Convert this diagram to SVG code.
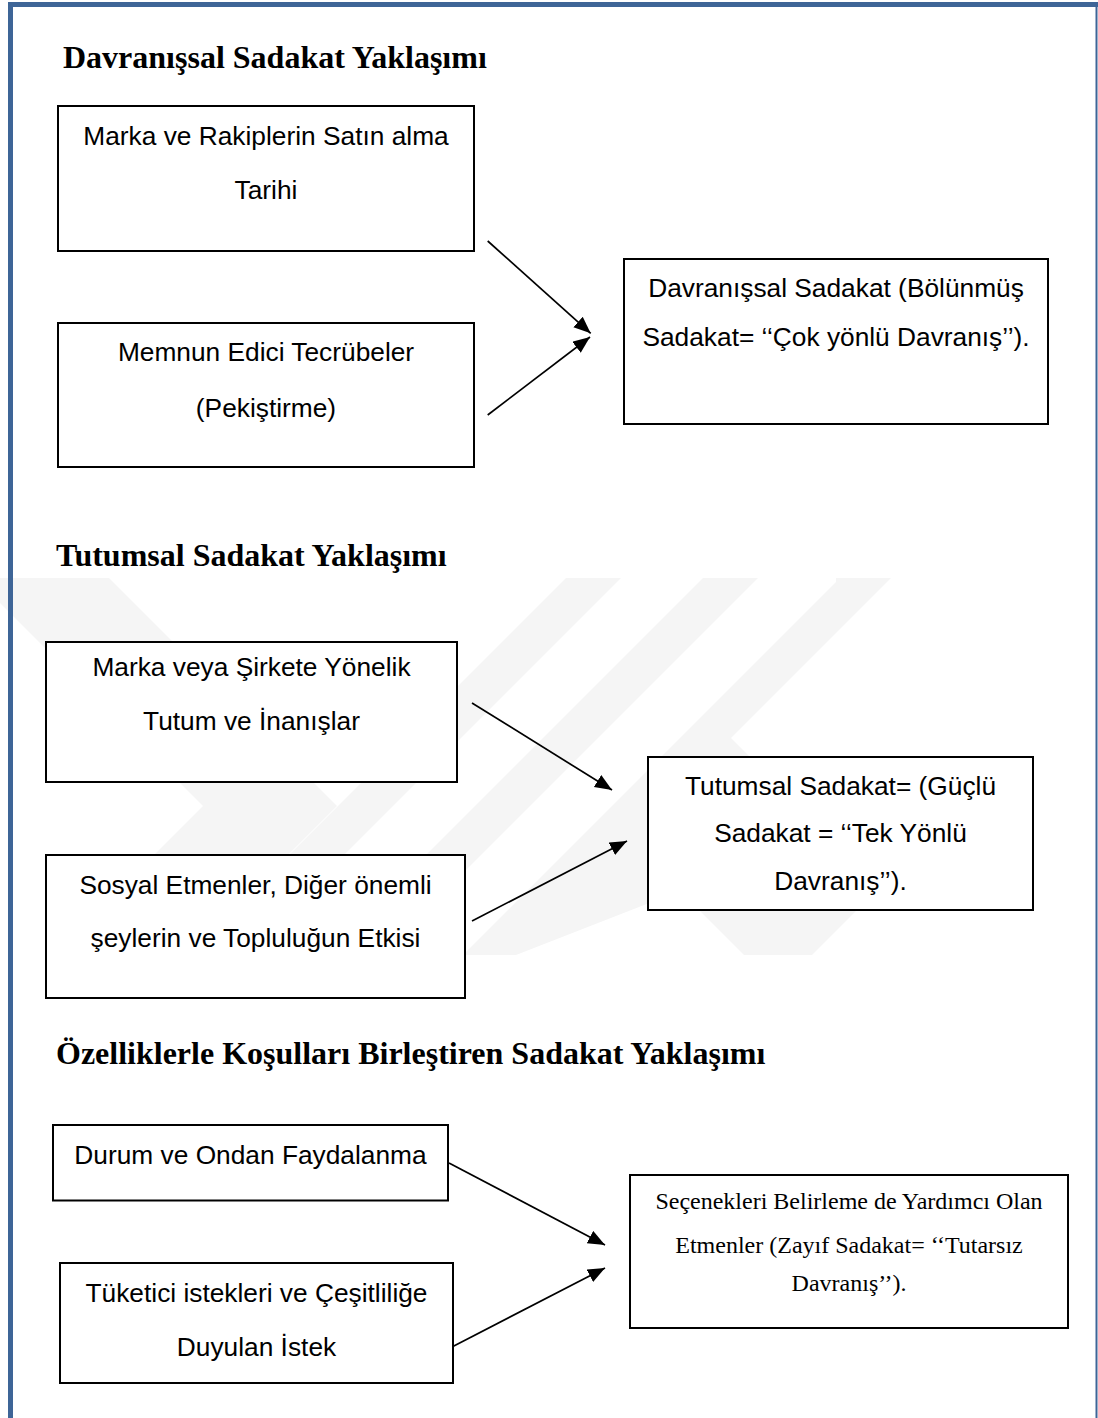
<svg xmlns="http://www.w3.org/2000/svg" width="1098" height="1418" viewBox="0 0 1098 1418">
  <style>
    .box { fill: #ffffff; stroke: #000000; stroke-width: 2; }
    .lbl { font-family: "Liberation Sans", Arial, sans-serif; font-size: 26.3px; fill: #000000; text-anchor: middle; }
    .lbls { font-family: "Liberation Serif", "Times New Roman", serif; font-size: 24px; fill: #000000; text-anchor: middle; }
    .head { font-family: "Liberation Serif", "Times New Roman", serif; font-size: 32px; font-weight: bold; fill: #000000; }
    .conn { stroke: #000000; stroke-width: 1.7; fill: none; marker-end: url(#arrow); }
    .wm { fill: #f5f5f5; }
  </style>
  <defs>
    <marker id="arrow" markerUnits="userSpaceOnUse" markerWidth="18" markerHeight="16" refX="17" refY="7" orient="auto">
      <path d="M0,0 L17,7 L0,14 z" fill="#000000"/>
    </marker>
  </defs>

  <rect x="0" y="0" width="1098" height="1418" fill="#ffffff"/>

  <!-- faint background watermark -->
  <g id="watermark">
    <polygon class="wm" points="0,578 109,578 337,806 188,955 54,955 203,806 0,603"/>
    <polygon class="wm" points="566,578 621,578 244,955 189,955"/>
    <polygon class="wm" points="703,578 758,578 381,955 326,955"/>
    <polygon class="wm" points="836,578 891,578 731,738 880,887 812,955 744,955 680,891 516,955 463,955 836,582"/>
  </g>

  <!-- page frame -->
  <g id="frame">
    <rect x="8" y="2" width="1090" height="5" fill="#3e6597"/>
    <rect x="8" y="2" width="5" height="1416" fill="#3e6597"/>
    <rect x="1095.5" y="2" width="2" height="1416" fill="#3e6597"/>
  </g>

  <!-- headings -->
  <text class="head" x="63" y="68">Davranışsal Sadakat Yaklaşımı</text>
  <text class="head" x="56" y="566">Tutumsal Sadakat Yaklaşımı</text>
  <text class="head" x="56" y="1064">Özelliklerle Koşulları Birleştiren Sadakat Yaklaşımı</text>

  <!-- connectors -->
  <g id="connectors">
    <line class="conn" x1="487.7" y1="241" x2="590.7" y2="333.3"/>
    <line class="conn" x1="487.7" y1="415" x2="590" y2="337"/>
    <line class="conn" x1="472" y1="703" x2="612" y2="790"/>
    <line class="conn" x1="472" y1="921" x2="627" y2="841"/>
    <line class="conn" x1="449" y1="1163" x2="605" y2="1245"/>
    <line class="conn" x1="450" y1="1348" x2="605" y2="1268"/>
  </g>

  <!-- section 1 -->
  <g id="node-marka-rakip">
    <rect class="box" x="58" y="106" width="416" height="145"/>
    <text class="lbl" x="266" y="145">Marka ve Rakiplerin Satın alma</text>
    <text class="lbl" x="266" y="199">Tarihi</text>
  </g>
  <g id="node-memnun">
    <rect class="box" x="58" y="323" width="416" height="144"/>
    <text class="lbl" x="266" y="361">Memnun Edici Tecrübeler</text>
    <text class="lbl" x="266" y="417">(Pekiştirme)</text>
  </g>
  <g id="node-davranissal">
    <rect class="box" x="624" y="259" width="424" height="165"/>
    <text class="lbl" x="836" y="297">Davranışsal Sadakat (Bölünmüş</text>
    <text class="lbl" x="836" y="346">Sadakat= ‘‘Çok yönlü Davranış’’).</text>
  </g>

  <!-- section 2 -->
  <g id="node-tutum-inanis">
    <rect class="box" x="46" y="642" width="411" height="140"/>
    <text class="lbl" x="251.5" y="676">Marka veya Şirkete Yönelik</text>
    <text class="lbl" x="251.5" y="730">Tutum ve İnanışlar</text>
  </g>
  <g id="node-sosyal">
    <rect class="box" x="46" y="855" width="419" height="143"/>
    <text class="lbl" x="255.5" y="894">Sosyal Etmenler, Diğer önemli</text>
    <text class="lbl" x="255.5" y="947">şeylerin ve Topluluğun Etkisi</text>
  </g>
  <g id="node-tutumsal">
    <rect class="box" x="648" y="757" width="385" height="153"/>
    <text class="lbl" x="840.5" y="795">Tutumsal Sadakat= (Güçlü</text>
    <text class="lbl" x="840.5" y="842">Sadakat = ‘‘Tek Yönlü</text>
    <text class="lbl" x="840.5" y="890">Davranış’’).</text>
  </g>

  <!-- section 3 -->
  <g id="node-durum">
    <rect class="box" x="53" y="1125" width="395" height="75.5"/>
    <text class="lbl" x="250.5" y="1164">Durum ve Ondan Faydalanma</text>
  </g>
  <g id="node-tuketici">
    <rect class="box" x="60" y="1263" width="393" height="120"/>
    <text class="lbl" x="256.5" y="1302">Tüketici istekleri ve Çeşitliliğe</text>
    <text class="lbl" x="256.5" y="1356">Duyulan İstek</text>
  </g>
  <g id="node-secenek">
    <rect class="box" x="630" y="1175" width="438" height="153"/>
    <text class="lbls" x="849" y="1209">Seçenekleri Belirleme de Yardımcı Olan</text>
    <text class="lbls" x="849" y="1253">Etmenler (Zayıf Sadakat= ‘‘Tutarsız</text>
    <text class="lbls" x="849" y="1291">Davranış’’).</text>
  </g>
</svg>
